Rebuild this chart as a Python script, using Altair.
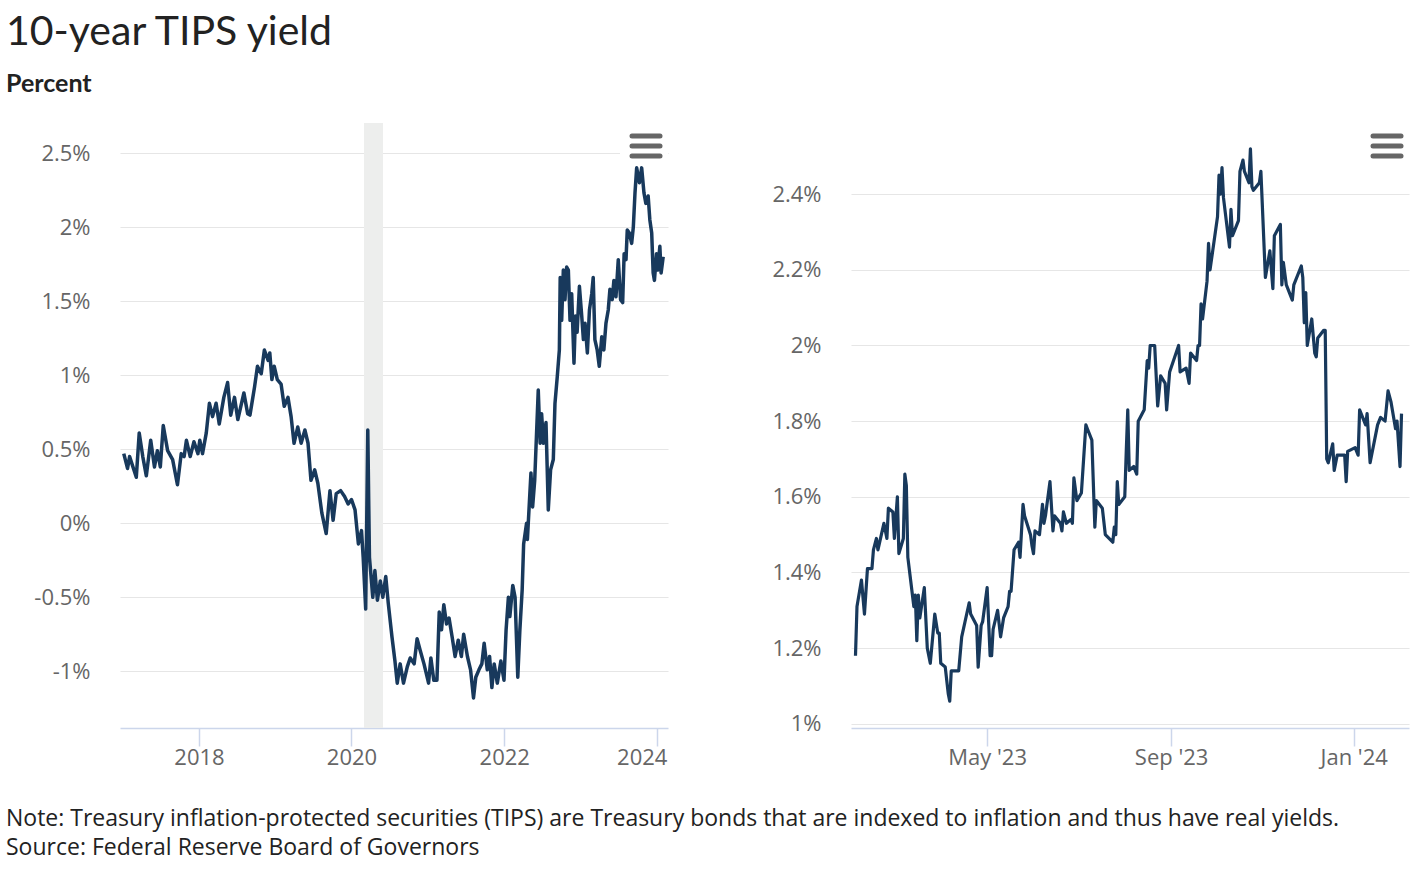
import altair as alt
import pandas as pd

# ---------------- data ----------------
left_dates = [
    "2017-01-06", "2017-01-24", "2017-02-03", "2017-03-07", "2017-03-21", "2017-04-07", "2017-04-24",
    "2017-05-15", "2017-06-02", "2017-06-16", "2017-06-30", "2017-07-14", "2017-08-04", "2017-08-28",
    "2017-09-20", "2017-10-08", "2017-10-22", "2017-11-02", "2017-11-20", "2017-12-08", "2017-12-27",
    "2018-01-05", "2018-01-18", "2018-02-05", "2018-02-20", "2018-03-07", "2018-03-24", "2018-04-08",
    "2018-04-30", "2018-05-18", "2018-06-02", "2018-06-20", "2018-07-06", "2018-08-04", "2018-08-22",
    "2018-09-02", "2018-09-24", "2018-10-08", "2018-10-26", "2018-11-10", "2018-11-28", "2018-12-06",
    "2018-12-16", "2018-12-27", "2019-01-11", "2019-01-29", "2019-02-13", "2019-03-03", "2019-03-18",
    "2019-04-01", "2019-04-19", "2019-05-05", "2019-05-23", "2019-06-07", "2019-06-21", "2019-07-09",
    "2019-07-24", "2019-08-12", "2019-09-02", "2019-09-20", "2019-10-05", "2019-10-20", "2019-11-10",
    "2019-11-29", "2019-12-16", "2020-01-01", "2020-01-18", "2020-02-03", "2020-02-18", "2020-02-26",
    "2020-03-09", "2020-03-19", "2020-03-27", "2020-04-12", "2020-04-22", "2020-05-04", "2020-05-18",
    "2020-05-30", "2020-06-13", "2020-06-25", "2020-07-13", "2020-07-27", "2020-08-07", "2020-08-21",
    "2020-09-06", "2020-09-24", "2020-10-08", "2020-10-27", "2020-11-10", "2020-11-25", "2020-12-13",
    "2021-01-04", "2021-01-15", "2021-01-29", "2021-02-13", "2021-02-24", "2021-03-07", "2021-03-18",
    "2021-03-31", "2021-04-12", "2021-04-27", "2021-05-11", "2021-05-26", "2021-06-10", "2021-06-21",
    "2021-07-09", "2021-07-24", "2021-08-07", "2021-08-18", "2021-09-02", "2021-09-16", "2021-09-27",
    "2021-10-12", "2021-10-23", "2021-11-03", "2021-11-14", "2021-11-29", "2021-12-16", "2021-12-31",
    "2022-01-10", "2022-01-21", "2022-01-28", "2022-02-11", "2022-02-22", "2022-03-07", "2022-03-17",
    "2022-03-28", "2022-04-04", "2022-04-18", "2022-04-22", "2022-05-09", "2022-05-17", "2022-05-27",
    "2022-06-13", "2022-06-22", "2022-06-29", "2022-07-08", "2022-07-20", "2022-07-31", "2022-08-11",
    "2022-08-24", "2022-09-01", "2022-09-12", "2022-09-22", "2022-09-26", "2022-10-03", "2022-10-11",
    "2022-10-19", "2022-10-27", "2022-11-04", "2022-11-12", "2022-11-20", "2022-12-01", "2022-12-08",
    "2022-12-16", "2022-12-27", "2023-01-07", "2023-01-15", "2023-01-23", "2023-02-03", "2023-02-13",
    "2023-02-24", "2023-03-03", "2023-03-11", "2023-03-22", "2023-04-01", "2023-04-13", "2023-04-23",
    "2023-05-03", "2023-05-14", "2023-05-22", "2023-06-02", "2023-06-10", "2023-06-20", "2023-07-01",
    "2023-07-12", "2023-07-22", "2023-07-29", "2023-08-07", "2023-08-13", "2023-08-23", "2023-09-03",
    "2023-09-11", "2023-09-19", "2023-09-27", "2023-10-10", "2023-10-21", "2023-11-01", "2023-11-10",
    "2023-11-21", "2023-11-29", "2023-12-08", "2023-12-15", "2023-12-21", "2023-12-31", "2024-01-06",
    "2024-01-16", "2024-01-22", "2024-02-01",
]
left_values = [
    0.47, 0.37, 0.45, 0.31, 0.61, 0.45, 0.32,
    0.56, 0.38, 0.49, 0.38, 0.66, 0.49, 0.43,
    0.26, 0.47, 0.45, 0.56, 0.45, 0.55, 0.47,
    0.56, 0.47, 0.61, 0.81, 0.72, 0.81, 0.67,
    0.85, 0.95, 0.73, 0.85, 0.70, 0.88, 0.74,
    0.73, 0.92, 1.06, 1.01, 1.17, 1.10, 1.15,
    0.97, 1.06, 0.97, 0.94, 0.79, 0.85, 0.72,
    0.54, 0.65, 0.54, 0.63, 0.54, 0.29, 0.36,
    0.27, 0.07, -0.07, 0.22, 0.02, 0.20, 0.22,
    0.18, 0.13, 0.16, 0.09, -0.14, -0.05, -0.23,
    -0.58, 0.63, -0.23, -0.50, -0.32, -0.52, -0.39,
    -0.50, -0.36, -0.54, -0.77, -0.93, -1.08, -0.95,
    -1.08, -0.97, -0.91, -0.95, -0.78, -0.86, -0.95,
    -1.08, -0.91, -1.06, -1.06, -0.60, -0.72, -0.55,
    -0.68, -0.64, -0.77, -0.90, -0.79, -0.90, -0.75,
    -0.90, -0.99, -1.18, -1.04, -0.99, -0.95, -0.81,
    -0.99, -0.90, -1.11, -0.95, -1.08, -0.93, -1.06,
    -0.72, -0.50, -0.63, -0.42, -0.50, -1.04, -0.72,
    -0.45, -0.14, 0.00, -0.11, 0.34, 0.11, 0.29,
    0.90, 0.54, 0.74, 0.54, 0.68, 0.09, 0.36,
    0.43, 0.81, 0.99, 1.17, 1.66, 1.37, 1.71,
    1.51, 1.73, 1.71, 1.37, 1.55, 1.08, 1.40,
    1.29, 1.60, 1.40, 1.24, 1.35, 1.15, 1.44,
    1.55, 1.66, 1.24, 1.17, 1.06, 1.26, 1.17,
    1.35, 1.44, 1.58, 1.51, 1.64, 1.53, 1.78,
    1.51, 1.49, 1.82, 1.78, 1.98, 1.96, 1.89,
    2.00, 2.23, 2.40, 2.30, 2.40, 2.23, 2.16,
    2.21, 2.05, 1.96, 1.69, 1.64, 1.82, 1.71,
    1.87, 1.69, 1.80,
]

right_dates = [
    "2023-02-02", "2023-02-03", "2023-02-06", "2023-02-08", "2023-02-10", "2023-02-13", "2023-02-14",
    "2023-02-16", "2023-02-17", "2023-02-21", "2023-02-23", "2023-02-24", "2023-02-27", "2023-02-28",
    "2023-03-02", "2023-03-03", "2023-03-06", "2023-03-07", "2023-03-08", "2023-03-09", "2023-03-13",
    "2023-03-14", "2023-03-15", "2023-03-16", "2023-03-17", "2023-03-20", "2023-03-22", "2023-03-24",
    "2023-03-27", "2023-03-29", "2023-03-30", "2023-03-31", "2023-04-03", "2023-04-05", "2023-04-06",
    "2023-04-07", "2023-04-12", "2023-04-14", "2023-04-19", "2023-04-20", "2023-04-24", "2023-04-25",
    "2023-04-27", "2023-04-28", "2023-05-01", "2023-05-03", "2023-05-04", "2023-05-05", "2023-05-08",
    "2023-05-10", "2023-05-12", "2023-05-15", "2023-05-16", "2023-05-17", "2023-05-19", "2023-05-22",
    "2023-05-23", "2023-05-25", "2023-05-26", "2023-05-30", "2023-05-31", "2023-06-01", "2023-06-02",
    "2023-06-05", "2023-06-07", "2023-06-08", "2023-06-09", "2023-06-12", "2023-06-14", "2023-06-15",
    "2023-06-19", "2023-06-20", "2023-06-21", "2023-06-23", "2023-06-26", "2023-06-27", "2023-06-28",
    "2023-06-30", "2023-07-03", "2023-07-06", "2023-07-07", "2023-07-10", "2023-07-12", "2023-07-13",
    "2023-07-17", "2023-07-19", "2023-07-24", "2023-07-25", "2023-07-26", "2023-07-27", "2023-07-28",
    "2023-08-01", "2023-08-02", "2023-08-03", "2023-08-04", "2023-08-07", "2023-08-09", "2023-08-10",
    "2023-08-14", "2023-08-16", "2023-08-17", "2023-08-18", "2023-08-21", "2023-08-23", "2023-08-25",
    "2023-08-28", "2023-08-29", "2023-08-31", "2023-09-06", "2023-09-07", "2023-09-11", "2023-09-13",
    "2023-09-14", "2023-09-18", "2023-09-19", "2023-09-20", "2023-09-21", "2023-09-22", "2023-09-25",
    "2023-09-26", "2023-09-27", "2023-10-02", "2023-10-03", "2023-10-04", "2023-10-05", "2023-10-06",
    "2023-10-10", "2023-10-11", "2023-10-12", "2023-10-16", "2023-10-17", "2023-10-19", "2023-10-20",
    "2023-10-23", "2023-10-24", "2023-10-25", "2023-10-26", "2023-10-30", "2023-10-31", "2023-11-03",
    "2023-11-06", "2023-11-08", "2023-11-09", "2023-11-13", "2023-11-14", "2023-11-15", "2023-11-17",
    "2023-11-21", "2023-11-22", "2023-11-27", "2023-11-28", "2023-11-29", "2023-11-30", "2023-12-01",
    "2023-12-04", "2023-12-06", "2023-12-07", "2023-12-08", "2023-12-12", "2023-12-13", "2023-12-14",
    "2023-12-15", "2023-12-18", "2023-12-19", "2023-12-21", "2023-12-26", "2023-12-27", "2023-12-28",
    "2024-01-02", "2024-01-04", "2024-01-05", "2024-01-08", "2024-01-09", "2024-01-10", "2024-01-12",
    "2024-01-17", "2024-01-19", "2024-01-22", "2024-01-24", "2024-01-26", "2024-01-29", "2024-01-30",
    "2024-02-01", "2024-02-02",
]
right_values = [
    1.18, 1.31, 1.38, 1.29, 1.41, 1.41, 1.46,
    1.49, 1.46, 1.53, 1.49, 1.57, 1.56, 1.49,
    1.60, 1.45, 1.49, 1.66, 1.63, 1.44, 1.31,
    1.34, 1.22, 1.34, 1.28, 1.36, 1.20, 1.16,
    1.29, 1.24, 1.24, 1.16, 1.15, 1.08, 1.06,
    1.14, 1.14, 1.23, 1.32, 1.29, 1.26, 1.15,
    1.26, 1.27, 1.36, 1.18, 1.18, 1.25, 1.30,
    1.23, 1.28, 1.31, 1.35, 1.35, 1.46, 1.48,
    1.44, 1.58, 1.55, 1.50, 1.47, 1.45, 1.51,
    1.50, 1.58, 1.53, 1.55, 1.64, 1.51, 1.55,
    1.53, 1.51, 1.56, 1.53, 1.54, 1.53, 1.65,
    1.59, 1.61, 1.79, 1.78, 1.75, 1.52, 1.59,
    1.57, 1.50, 1.48, 1.52, 1.50, 1.64, 1.58,
    1.60, 1.72, 1.83, 1.67, 1.68, 1.66, 1.80,
    1.83, 1.96, 1.94, 2.00, 2.00, 1.84, 1.92,
    1.90, 1.83, 1.93, 2.00, 1.93, 1.94, 1.90,
    1.98, 1.96, 2.00, 2.00, 2.11, 2.07, 2.17,
    2.27, 2.20, 2.34, 2.45, 2.40, 2.47, 2.39,
    2.26, 2.36, 2.29, 2.33, 2.46, 2.49, 2.46,
    2.43, 2.52, 2.42, 2.41, 2.43, 2.46, 2.18,
    2.25, 2.15, 2.29, 2.32, 2.16, 2.22, 2.16,
    2.12, 2.16, 2.21, 2.18, 2.06, 2.14, 2.00,
    2.07, 1.98, 1.97, 2.02, 2.04, 2.04, 1.70,
    1.69, 1.74, 1.67, 1.71, 1.71, 1.64, 1.72,
    1.73, 1.71, 1.83, 1.80, 1.79, 1.82, 1.69,
    1.79, 1.81, 1.80, 1.88, 1.85, 1.78, 1.80,
    1.68, 1.82,
]

recession_start = ["2020-03-01"]
recession_end = ["2020-05-31"]

left_y_ticks = [-1, -0.5, 0, 0.5, 1, 1.5, 2, 2.5]
right_y_ticks = [1, 1.2, 1.4, 1.6, 1.8, 2, 2.2, 2.4]
left_x_ticks = [2018, 2020, 2022, 2024]
right_x_ticks = [(2023, 5), (2023, 9), (2024, 1)]

title_text = ["10-year TIPS yield"]
subtitle_text = ["Percent"]
note_text = ["Note: Treasury inflation-protected securities (TIPS) are Treasury bonds that are indexed to inflation and thus have real yields."]
source_text = ["Source: Federal Reserve Board of Governors"]

# ---------------- style ----------------
FONT = "Lato"
BODY = "Open Sans"
LINE = "#18395c"
GRID = "#e6e6e6"
AXIS = "#ccd6eb"
LABEL = "#666666"
TEXT = "#222222"
BAND = "#edeeed"
W_L, W_R, H = 548, 558, 605

left_df = pd.DataFrame({"date": left_dates, "value": left_values})
right_df = pd.DataFrame({"date": right_dates, "value": right_values})
rec_df = pd.DataFrame({"start": recession_start, "end": recession_end})


def dt(y, m, d):
    return alt.DateTime(year=y, month=m, date=d, utc=True)


def x_axis(values, fmt, offset=0):
    return alt.Axis(values=values, format=fmt, grid=False, domainColor=AXIS, domainWidth=1.5,
                    tickColor=AXIS, tickSize=18, tickWidth=1.5, labelFontSize=22, labelColor=LABEL,
                    labelFont=BODY, labelPadding=1, title=None, labelFlush=False, labelOverlap=False,
                    labelOffset=offset)


def y_axis(values):
    return alt.Axis(values=values, labelExpr="datum.value + '%'", grid=True, gridColor=GRID,
                    gridWidth=1.2, domain=False, ticks=False, labelPadding=30, labelFontSize=22,
                    labelColor=LABEL, labelFont=BODY, title=None)


def one(col, val):
    return pd.DataFrame({col: val})


def menu_icon(x0, x1, y0):
    bars = []
    for k in range(3):
        bars.append(
            alt.Chart(one("k", [k])).mark_rule(color="#666666", strokeWidth=5, strokeCap="round").encode(
                x=alt.value(x0), x2=alt.value(x1), y=alt.value(y0 + 10 * k)
            )
        )
    return bars


left_xscale = alt.Scale(type="utc", domain=[dt(2016, 12, 19), dt(2024, 2, 24)])
left_yscale = alt.Scale(domain=[-1.383, 2.703], nice=False, zero=False)

last_label_shift = {"condition": {"test": "utcyear(datum.value) == 2024", "value": -15}, "value": 0}

band = alt.Chart(rec_df).mark_rect(color=BAND).encode(
    x=alt.X("start:T", scale=left_xscale, title=None), x2="end:T"
)
left_line = alt.Chart(left_df).mark_line(color=LINE, strokeWidth=3.5, strokeJoin="round").encode(
    x=alt.X("date:T", scale=left_xscale,
            axis=x_axis([dt(y, 1, 1) for y in left_x_ticks], "%Y", last_label_shift), title=None),
    y=alt.Y("value:Q", scale=left_yscale, axis=y_axis(left_y_ticks), title=None),
)
cover = alt.Chart(one("k", [0])).mark_rect(color="white").encode(
    x=alt.value(500), x2=alt.value(548), y=alt.value(6), y2=alt.value(40)
)
title = alt.Chart(one("t", title_text)).mark_text(
    align="left", baseline="alphabetic", fontSize=41, font=FONT, color=TEXT
).encode(x=alt.value(-114), y=alt.value(-78), text="t:N")
subtitle = alt.Chart(one("t", subtitle_text)).mark_text(
    align="left", baseline="alphabetic", fontSize=25, fontWeight="bold", font=FONT, color=TEXT
).encode(x=alt.value(-114), y=alt.value(-31), text="t:N")
note = alt.Chart(one("t", note_text)).mark_text(
    align="left", baseline="alphabetic", fontSize=23, font=BODY, color=TEXT
).encode(x=alt.value(-114), y=alt.value(703), text="t:N")
source = alt.Chart(one("t", source_text)).mark_text(
    align="left", baseline="alphabetic", fontSize=23, font=BODY, color=TEXT
).encode(x=alt.value(-114), y=alt.value(732), text="t:N")

left = alt.layer(
    band, left_line, cover, *menu_icon(512, 540, 13), title, subtitle, note, source
).properties(width=W_L, height=H)

right_xscale = alt.Scale(type="utc", domain=[dt(2023, 1, 30), dt(2024, 2, 7)])
right_yscale = alt.Scale(domain=[0.989, 2.588], nice=False, zero=False)

right_line = alt.Chart(right_df).mark_line(color=LINE, strokeWidth=3.2, strokeJoin="round").encode(
    x=alt.X("date:T", scale=right_xscale,
            axis=x_axis([dt(y, m, 1) for y, m in right_x_ticks], "%b '%y"), title=None),
    y=alt.Y("value:Q", scale=right_yscale, axis=y_axis(right_y_ticks), title=None),
)
right = alt.layer(right_line, *menu_icon(522, 550, 13)).properties(width=W_R, height=H)

chart = alt.hconcat(left, right, spacing=183, bounds="flush").properties(
    padding={"left": 6, "top": 12, "right": 5, "bottom": 5}
).configure(font=FONT).configure_view(strokeWidth=0, stroke="transparent")

chart.save("out.html", embed_options={"renderer": "svg", "actions": False})
